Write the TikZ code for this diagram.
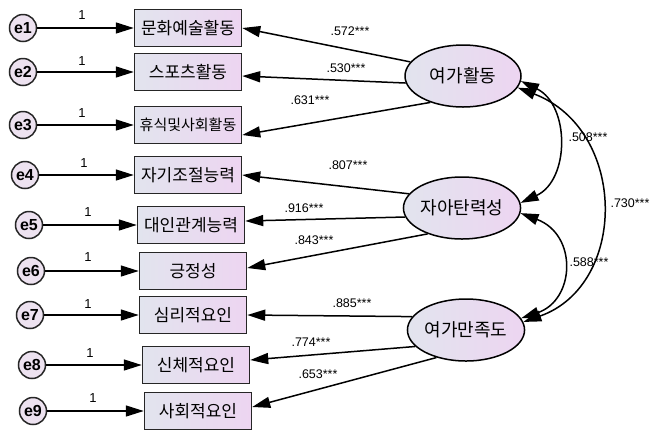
\documentclass[tikz,border=0pt]{standalone}
\usepackage{fontspec}
\setmainfont{Liberation Sans}
\newfontfamily\kr{Noto Sans CJK KR}
\usetikzlibrary{arrows.meta,shapes.geometric}
\definecolor{bl}{HTML}{E2E4EE}
\definecolor{pk}{HTML}{EDD5F1}
\definecolor{errc}{HTML}{EDE2F0}
\begin{document}
\begin{tikzpicture}[x=1pt,y=-1pt,
 obs/.style={draw=black!85, line width=1.5pt, left color=bl, right color=pk, minimum width=107pt, minimum height=37pt, inner sep=0pt, font=\kr\fontsize{17}{17}\selectfont},
 lat/.style={ellipse, draw=black, line width=1.5pt, left color=bl, right color=pk, minimum width=116pt, minimum height=62pt, inner sep=0pt, font=\kr\fontsize{18}{18}\selectfont},
 err/.style={circle, draw=black!85, line width=1.5pt, fill=errc, minimum size=27pt, inner sep=0pt, font=\bfseries\fontsize{16}{16}\selectfont},
 arr/.style={-{Triangle[length=18pt,width=11pt]}, line width=1.5pt},
 cov/.style={{Triangle[length=18pt,width=11pt]}-{Triangle[length=18pt,width=11pt]}, line width=1.5pt},
 coef/.style={font=\fontsize{12.5}{12.5}\selectfont, inner sep=0pt},
 one/.style={font=\fontsize{13}{13}\selectfont, inner sep=0pt},
]
\useasboundingbox (0,0) rectangle (652,432);
% observed
\node[obs] (B1) at (188,28) {문화예술활동};
\node[obs] (B2) at (188,72) {스포츠활동};
\node[obs, font=\kr\fontsize{15}{15}\selectfont] (B3) at (188,125) {휴식및사회활동};
\node[obs] (B4) at (188,175) {자기조절능력};
\node[obs] (B5) at (191,225) {대인관계능력};
\node[obs] (B6) at (193,271) {긍정성};
\node[obs] (B7) at (193,315) {심리적요인};
\node[obs] (B8) at (196,365) {신체적요인};
\node[obs] (B9) at (198,411) {사회적요인};
% errors
\node[err] (E1) at (23,28) {e1};
\node[err] (E2) at (23,72) {e2};
\node[err] (E3) at (23,125) {e3};
\node[err] (E4) at (25,175) {e4};
\node[err] (E5) at (29,225) {e5};
\node[err] (E6) at (31,271) {e6};
\node[err] (E7) at (30,315) {e7};
\node[err] (E8) at (32,365) {e8};
\node[err] (E9) at (33,411) {e9};
% latents
\node[lat] (L1) at (463,76) {여가활동};
\node[lat] (L2) at (462,208) {자아탄력성};
\node[lat] (L3) at (466,330) {여가만족도};
% error arrows
\foreach \i in {1,...,9} {\draw[arr] (E\i) -- (B\i.west);}
\node[one] at (82,15) {1};
\node[one] at (82,61) {1};
\node[one] at (82,113) {1};
\node[one] at (84,163) {1};
\node[one] at (88,212) {1};
\node[one] at (88,257) {1};
\node[one] at (88,304) {1};
\node[one] at (90,353) {1};
\node[one] at (93,398) {1};
% loadings
\draw[arr] (L1.165) -- (B1.east);
\draw[arr] (L1.187) -- ([yshift=-4pt]B2.east);
\draw[arr] (L1.219) -- ([yshift=-10pt]B3.east);
\draw[arr] (L2.165) -- (B4.east);
\draw[arr] (L2.189) -- ([yshift=4pt]B5.east);
\draw[arr] (L2.217) -- ([yshift=3pt]B6.east);
\draw[arr] (L3.166) -- (B7.east);
\draw[arr] (L3.198) -- ([yshift=5pt]B8.east);
\draw[arr] (L3.223) -- ([yshift=4pt]B9.east);
\node[coef] at (350,31) {.572***};
\node[coef] at (346,68) {.530***};
\node[coef] at (310,100) {.631***};
\node[coef] at (348,165) {.807***};
\node[coef] at (304,208) {.916***};
\node[coef] at (314,240) {.843***};
\node[coef] at (352,303) {.885***};
\node[coef] at (311,342) {.774***};
\node[coef] at (318,374) {.653***};
% covariances
\draw[cov] (L1.-5) .. controls (570,105) and (570,180) .. (L2.5);
\draw[cov] (L1.-12) .. controls (628,130) and (628,285) .. (L3.8);
\draw[cov] (L2.-5) .. controls (578,235) and (575,300) .. (L3.12);
\node[coef] at (588,137) {.508***};
\node[coef] at (630,203) {.730***};
\node[coef] at (589,262) {.588***};
\end{tikzpicture}
\end{document}
